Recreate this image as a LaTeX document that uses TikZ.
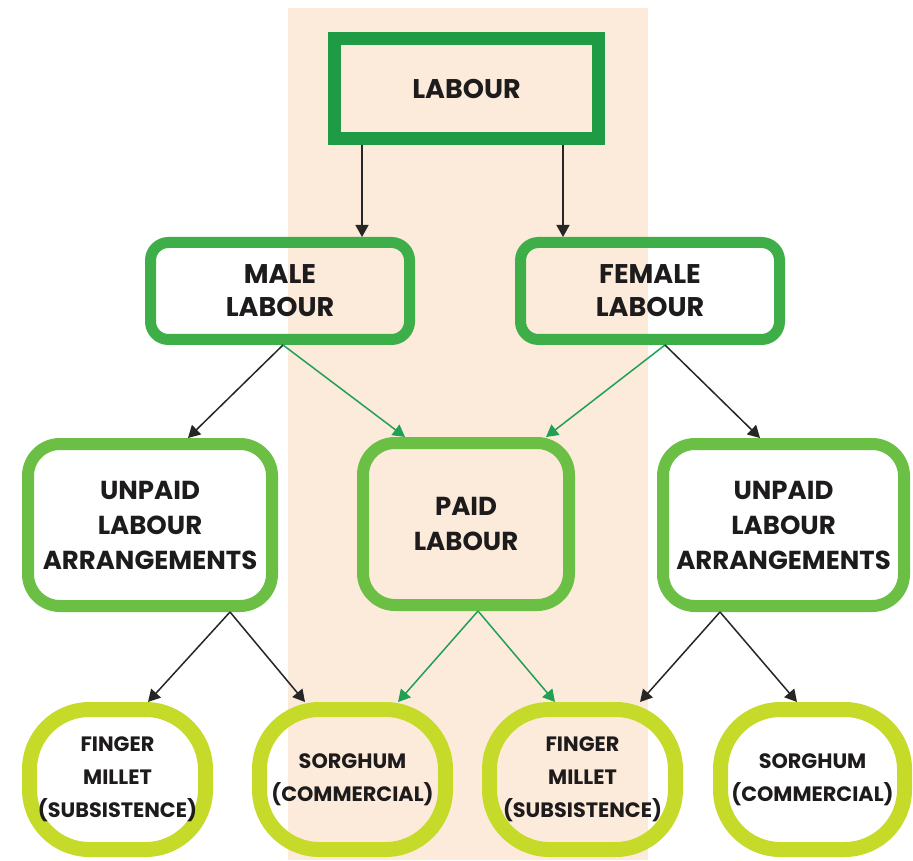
\documentclass[tikz,border=0pt]{standalone}
\usepackage{fontspec}
\setmainfont{Poppins}
\usetikzlibrary{calc,arrows.meta}
\definecolor{peach}{HTML}{FCEBDA}
\definecolor{gDark}{HTML}{1F9A45}
\definecolor{gMid}{HTML}{3EAE48}
\definecolor{gLight}{HTML}{6CBF45}
\definecolor{gYel}{HTML}{C6DA2A}
\definecolor{gArrow}{HTML}{1FA055}
\definecolor{ink}{HTML}{1E1B1C}
\tikzset{
  lbl/.style={align=center, text=ink, font=\bfseries\fontsize{13}{17.5}\selectfont, inner sep=0pt},
  topbox/.style={lbl, draw=gDark, line width=6.5pt, minimum width=132pt, minimum height=50pt, font=\bfseries\fontsize{13.5}{17}\selectfont},
  sexbox/.style={lbl, draw=gMid, line width=5.5pt, rounded corners=9pt, minimum width=129.5pt, minimum height=48.5pt, font=\bfseries\fontsize{13.5}{16.5}\selectfont},
  midbox/.style={lbl, draw=gLight, line width=6pt, rounded corners=16pt, minimum height=81pt},
  cropbox/.style={lbl, draw=gYel, line width=7.5pt, rounded corners=30pt, minimum height=70pt, font=\bfseries\fontsize{10.4}{16.5}\selectfont},
  blk/.style={draw=black!85, line width=0.75pt, -{Triangle[length=6pt,width=6.5pt]}},
  grn/.style={draw=gArrow, line width=0.75pt, -{Triangle[length=6pt,width=6.5pt]}, color=gArrow},
}
\begin{document}
\begin{tikzpicture}[x=0.5pt,y=-0.5pt]
\useasboundingbox (0,0) rectangle (913,860);
\fill[white] (0,0) rectangle (913,860);
\fill[peach] (288,8) rectangle (648,860);

\node[topbox] (labour) at (466.5,88.5) {LABOUR};
\node[sexbox] (male) at (280,291) {MALE\\LABOUR};
\node[sexbox] (female) at (650,291) {FEMALE\\LABOUR};
\node[midbox, minimum width=122pt] (unpL) at (150,525) {UNPAID\\LABOUR\\ARRANGEMENTS};
\node[midbox, minimum width=103pt] (paid) at (466,524) {PAID\\LABOUR};
\node[midbox, minimum width=120.5pt] (unpR) at (783.5,525) {UNPAID\\LABOUR\\ARRANGEMENTS};
\node[cropbox, minimum width=88pt] (finL) at (117.5,779.5) {FINGER\\MILLET\\(SUBSISTENCE)};
\node[cropbox, minimum width=93pt] (sorL) at (352.5,779.5) {SORGHUM\\(COMMERCIAL)};
\node[cropbox, minimum width=93pt] (finM) at (582.5,779.5) {FINGER\\MILLET\\(SUBSISTENCE)};
\node[cropbox, minimum width=92pt] (sorR) at (812.5,779.5) {SORGHUM\\(COMMERCIAL)};

\draw[blk] ($(labour.south)+(-104.5,0)$) -- ($(male.north)+(82,0)$);
\draw[blk] ($(labour.south)+(96.5,0)$) -- ($(female.north)+(-87,0)$);
\draw[blk] ($(male.south)+(3,0)$) -- ($(unpL.north)+(38,0)$);
\draw[grn] ($(male.south)+(3,0)$) -- ($(paid.north)+(-61,0)$);
\draw[grn] ($(female.south)+(15,0)$) -- ($(paid.north)+(80,0)$);
\draw[blk] ($(female.south)+(15,0)$) -- ($(unpR.north)+(-23.5,0)$);
\draw[blk] ($(unpL.south)+(80,0)$) -- ($(finL.north)+(30.5,0)$);
\draw[blk] ($(unpL.south)+(80,0)$) -- ($(sorL.north)+(-47.5,0)$);
\draw[grn] ($(paid.south)+(12,0)$) -- ($(sorL.north)+(45.5,0)$);
\draw[grn] ($(paid.south)+(12,0)$) -- ($(finM.north)+(-27.5,0)$);
\draw[blk] ($(unpR.south)+(-63.5,0)$) -- ($(finM.north)+(57.5,0)$);
\draw[blk] ($(unpR.south)+(-63.5,0)$) -- ($(sorR.north)+(-15.5,0)$);
\end{tikzpicture}
\end{document}
